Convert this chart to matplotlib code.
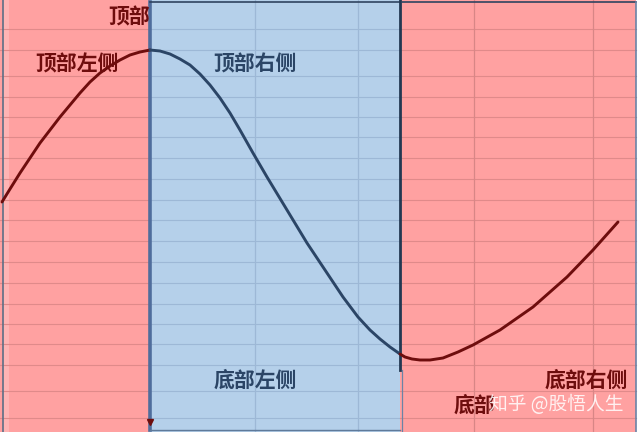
import matplotlib
matplotlib.use("Agg")
import matplotlib.pyplot as plt

plt.rcParams['font.family'] = ['Noto Sans CJK SC', 'DejaVu Sans']

left_x = [2, 10, 20, 30, 40, 50, 60, 70, 80, 90, 100, 110, 120, 130, 140, 150]
left_y = [202, 189, 173, 158, 143, 130, 117, 105, 93, 82, 73, 66, 60, 55, 52, 50]

mid_x = [150, 160, 170, 180, 190, 200, 210, 220, 230, 240, 253, 267, 287,
         307, 327, 343, 358, 370, 380, 390, 400]
mid_y = [50, 51, 54, 59, 65, 74, 85, 98, 113, 130, 153, 177, 210,
         243, 273, 297, 317, 330, 339, 347, 354]

right_x = [400, 405, 412, 420, 430, 443, 458, 473, 500, 533, 567, 593, 618]
right_y = [354, 357, 359, 360, 360, 358, 352, 345, 330, 307, 277, 250, 222]

# zone edges and sheet grid
zone_edges = [0, 150, 400, 636]
row_lines = [29, 50, 76, 97, 117, 137, 158, 179, 200, 220, 241, 262, 283,
             304, 324, 344, 365, 391, 418]
col_lines = [255, 358, 474, 593]

labels = ["顶部", "顶部左侧", "顶部右侧", "底部左侧", "底部右侧", "底部"]
label_pos = [(129, 17), (77, 64), (255, 64), (255, 380), (586, 380), (474, 405)]

red_fill = "#ffa1a1"
blue_fill = "#b5d0ea"
dark_red = "#6e0d0d"
dark_blue = "#2b4566"

fig = plt.figure(figsize=(6.4, 4.32), dpi=100)
ax = fig.add_axes([0, 0, 1, 1])
ax.set_xlim(0, 640)
ax.set_ylim(432, 0)
ax.axis("off")

ax.axvspan(zone_edges[0], zone_edges[1], color=red_fill, lw=0)
ax.axvspan(zone_edges[1], zone_edges[2], color=blue_fill, lw=0)
ax.axvspan(zone_edges[2], zone_edges[3], color=red_fill, lw=0)
ax.axvspan(zone_edges[3], 640, color="white", lw=0)
ax.axvspan(3, 9, color="#ffb4b4", lw=0)

# horizontal grid, tinted per zone
for y in row_lines:
    ax.plot([zone_edges[0], zone_edges[1]], [y, y], color="#e08a8a", lw=0.8)
    ax.plot([zone_edges[1], zone_edges[2]], [y, y], color="#9db8d6", lw=0.8)
    ax.plot([zone_edges[2], zone_edges[3]], [y, y], color="#e08a8a", lw=0.8)
for x in col_lines:
    c = "#9db8d6" if x < zone_edges[2] else "#d88686"
    ax.plot([x, x], [0, 432], color=c, lw=0.9)

# borders
ax.plot([3, 3], [0, 432], color="#5c6f86", lw=1.2)
ax.plot([150, 150], [2, 430], color="#4f6d9c", lw=2.6)
ax.plot([150, 400], [2, 2], color="#2f4460", lw=1.2)
ax.plot([150, 400], [430, 430], color="#5f7a9a", lw=1.0)
ax.plot([400, 400], [0, 370], color="#223852", lw=2.0)
ax.plot([402, 402], [370, 432], color="#6a83a6", lw=0.9)
ax.plot([402, 636], [2, 2], color="#2f4460", lw=1.2)
ax.plot([636, 636], [2, 432], color="#6a83a6", lw=1.2)
ax.plot([150], [422], marker="v", color=dark_red, ms=5)

# the curve
for xs, ys, c in [(left_x, left_y, dark_red), (mid_x, mid_y, dark_blue),
                  (right_x, right_y, dark_red)]:
    ax.plot(xs, ys, color=c, lw=2.1, solid_capstyle="round",
            solid_joinstyle="round")

colors = [dark_red, dark_red, dark_blue, dark_blue, dark_red, dark_red]
for text, (x, y), c in zip(labels, label_pos, colors):
    ax.text(x, y, text, color=c, fontsize=15, fontweight="bold",
            ha="center", va="center")

# watermark sits over the last label, as in the source image
ax.text(556, 405, "知乎 @股悟人生", color="white", alpha=0.85, fontsize=13.5,
        ha="center", va="center")

fig.savefig("out.png", dpi=100)
